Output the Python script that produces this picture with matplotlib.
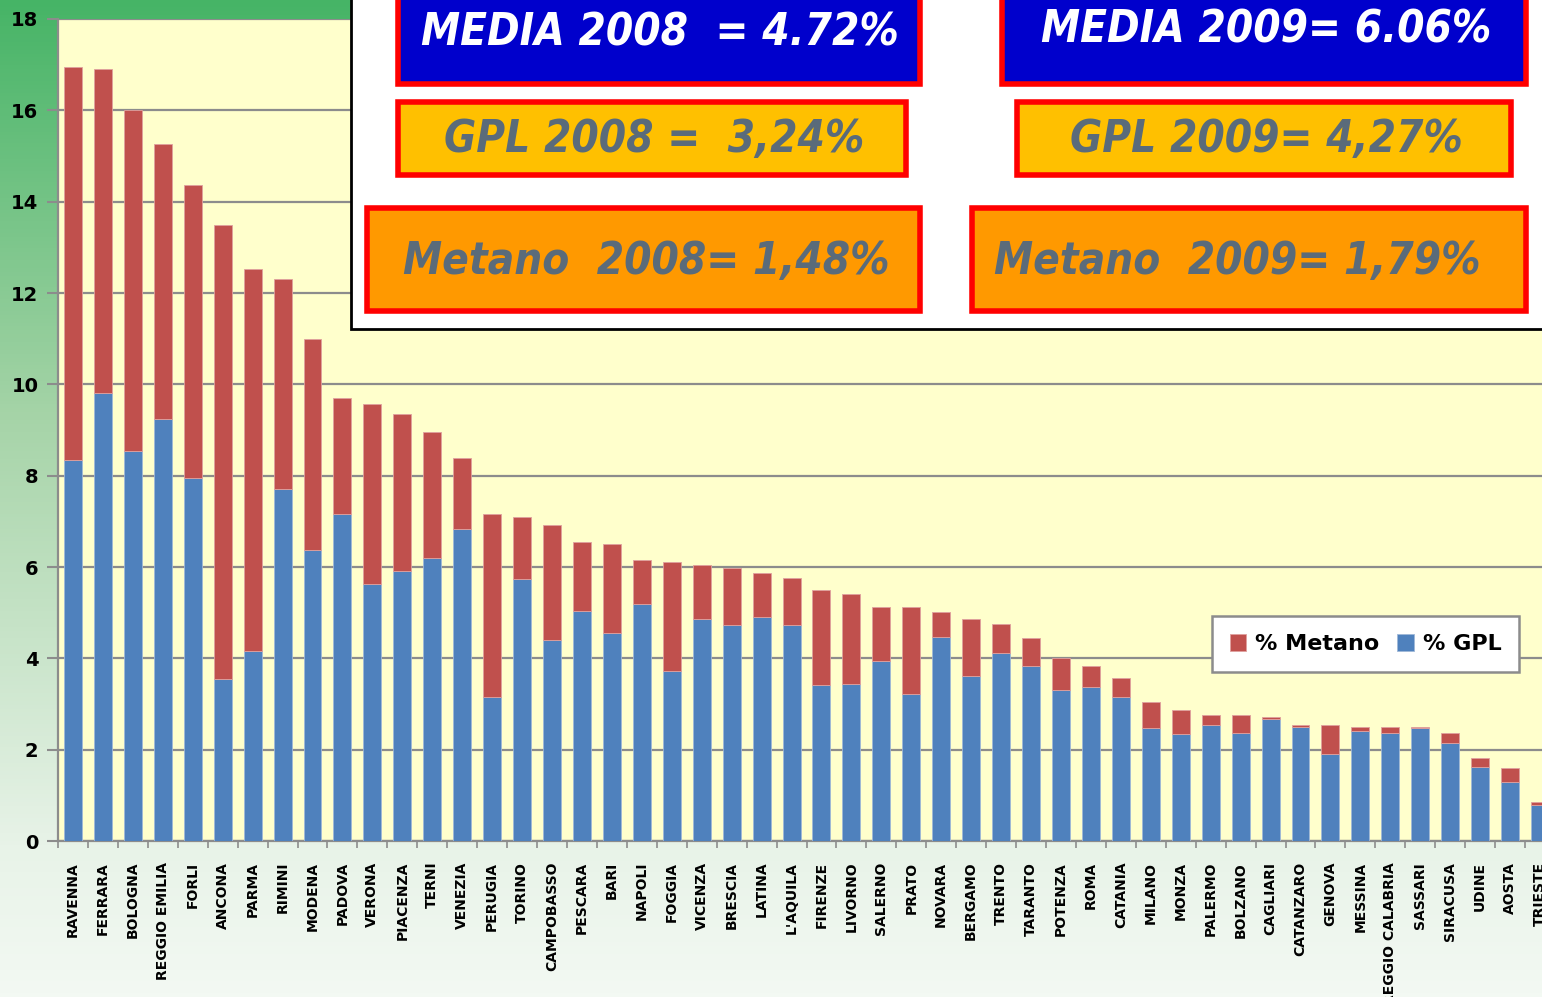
import numpy as np
import matplotlib
matplotlib.use("Agg")
import matplotlib.pyplot as plt
from matplotlib.patches import Rectangle
from matplotlib.colors import LinearSegmentedColormap

cities = ["RAVENNA", "FERRARA", "BOLOGNA", "REGGIO EMILIA", "FORLI", "ANCONA", "PARMA",
          "RIMINI", "MODENA", "PADOVA", "VERONA", "PIACENZA", "TERNI", "VENEZIA", "PERUGIA",
          "TORINO", "CAMPOBASSO", "PESCARA", "BARI", "NAPOLI", "FOGGIA", "VICENZA", "BRESCIA",
          "LATINA", "L'AQUILA", "FIRENZE", "LIVORNO", "SALERNO", "PRATO", "NOVARA", "BERGAMO",
          "TRENTO", "TARANTO", "POTENZA", "ROMA", "CATANIA", "MILANO", "MONZA", "PALERMO",
          "BOLZANO", "CAGLIARI", "CATANZARO", "GENOVA", "MESSINA", "REGGIO CALABRIA",
          "SASSARI", "SIRACUSA", "UDINE", "AOSTA", "TRIESTE"]

# % GPL (bottom of stack)
gpl = [8.34, 9.81, 8.54, 9.24, 7.95, 3.55, 4.16, 7.71, 6.37, 7.16, 5.63, 5.91, 6.20, 6.83, 3.15,
       5.74, 4.40, 5.04, 4.55, 5.19, 3.72, 4.86, 4.73, 4.90, 4.73, 3.42, 3.44, 3.94, 3.22, 4.47,
       3.61, 4.12, 3.83, 3.31, 3.37, 3.15, 2.47, 2.34, 2.54, 2.36, 2.68, 2.50, 1.90, 2.40, 2.36,
       2.47, 2.14, 1.61, 1.29, 0.78]
# total (GPL + Metano) height of each bar
totale = [16.95, 16.90, 16.01, 15.26, 14.36, 13.49, 12.52, 12.31, 10.99, 9.70, 9.57, 9.35, 8.96,
          8.39, 7.16, 7.09, 6.92, 6.55, 6.50, 6.15, 6.11, 6.04, 5.98, 5.87, 5.76, 5.50, 5.41,
          5.12, 5.12, 5.01, 4.86, 4.75, 4.44, 4.01, 3.83, 3.57, 3.04, 2.87, 2.76, 2.76, 2.72,
          2.54, 2.54, 2.50, 2.50, 2.50, 2.36, 1.82, 1.60, 0.85]
metano = [round(t - g, 2) for t, g in zip(totale, gpl)]

box_texts = ["MEDIA 2008  = 4.72%", "MEDIA 2009= 6.06%",
             "GPL 2008 =  3,24%", "GPL 2009= 4,27%",
             "Metano  2008= 1,48%", "Metano  2009= 1,79%"]

W, H = 1542, 997
fig = plt.figure(figsize=(W / 100, H / 100), dpi=100)

# background gradient
bg = fig.add_axes([0, 0, 1, 1], zorder=0)
cmap = LinearSegmentedColormap.from_list("bgg", [(0, "#46b466"), (0.42, "#a6d4a8"),
                                                  (0.85, "#e8f3e8"), (1, "#f3f9f3")])
bg.imshow(np.linspace(0, 1, 256).reshape(-1, 1), aspect="auto", cmap=cmap,
          extent=[0, 1, 0, 1], origin="upper")
bg.set_axis_off()

left, bottom, top, right = 58, 841, 19, 1555
ax = fig.add_axes([left / W, 1 - bottom / H, (right - left) / W, (bottom - top) / H], zorder=1)
ax.set_facecolor("#ffffcc")
x = np.arange(len(cities))
ax.bar(x, gpl, width=0.6, color="#4f81bd", edgecolor="#9fb8d8", linewidth=0.6,
       label="% GPL", zorder=3)
ax.bar(x, metano, bottom=gpl, width=0.6, color="#c0504d", edgecolor="#e0a09e",
       linewidth=0.6, label="% Metano", zorder=3)
ax.set_xlim(-0.5, len(cities) - 0.5)
ax.set_ylim(0, 18)
ax.set_yticks(range(0, 19, 2))
ax.grid(axis="y", color="#8c8c8c", linewidth=1.6, zorder=1)
ax.set_xticks(x)
ax.set_xticklabels(cities, rotation=90, fontsize=10, fontweight="bold")
ax.set_xticks(np.arange(-0.5, len(cities), 1), minor=True)
ax.tick_params(axis="x", which="major", length=0, pad=15)
ax.tick_params(axis="x", which="minor", length=5, color="#8c8c8c", width=1.2)
ax.tick_params(axis="y", length=8, color="#8c8c8c", width=1.5, labelsize=14, pad=6)
for lab in ax.get_yticklabels():
    lab.set_fontweight("bold")
for s in ["top", "right"]:
    ax.spines[s].set_visible(False)
for s in ["left", "bottom"]:
    ax.spines[s].set_color("#8c8c8c")
    ax.spines[s].set_linewidth(1.6)

h, l = ax.get_legend_handles_labels()
leg = ax.legend(h[::-1], l[::-1], loc="upper left",
                bbox_to_anchor=((1212 - left) / (right - left), (bottom - 616) / (bottom - top)),
                ncol=2, frameon=True, fancybox=False, prop={"weight": "bold", "size": 16},
                handlelength=0.75, handleheight=0.8, handletextpad=0.4, columnspacing=0.8,
                borderpad=0.8, borderaxespad=0)
leg.get_frame().set_edgecolor("#8c8c8c")
leg.get_frame().set_linewidth(1.8)
leg.get_frame().set_facecolor("white")
leg.get_frame().set_alpha(1)

# overlay panel with summary boxes (pixel coordinates)
ov = fig.add_axes([0, 0, 1, 1], zorder=5)
ov.set_xlim(0, W)
ov.set_ylim(H, 0)
ov.set_axis_off()
ov.patch.set_alpha(0)
ov.add_patch(Rectangle((351, -5), W, 334, facecolor="white", edgecolor="black", linewidth=2))

boxes = [(395, 0, 922, 87, "#0000cc", "white", (660, 33)),
         (999, 0, 1528, 87, "#0000cc", "white", (1266, 30)),
         (395, 100, 908, 178, "#ffc000", "#5a6b7a", (654, 140)),
         (1014, 100, 1513, 178, "#ffc000", "#5a6b7a", (1266, 140)),
         (364, 205, 922, 313, "#ff9900", "#5a6b7a", (646, 261)),
         (969, 205, 1528, 313, "#ff9900", "#5a6b7a", (1237, 261))]
for (x0, y0, x1, y1, fc, tc, (tx, ty)), txt in zip(boxes, box_texts):
    ov.add_patch(Rectangle((x0 + 2.5, y0 + 2.5 if y0 > 0 else -5), x1 - x0 - 5,
                           (y1 - y0 - 5) if y0 > 0 else (y1 + 2.5), facecolor=fc,
                           edgecolor="red", linewidth=4))
    ov.text(tx, ty, txt, ha="center", va="center", color=tc, fontsize=31.5,
            fontweight="bold", fontstyle="italic", fontstretch="condensed",
            family="DejaVu Sans")

fig.savefig("out.png", dpi=100)
